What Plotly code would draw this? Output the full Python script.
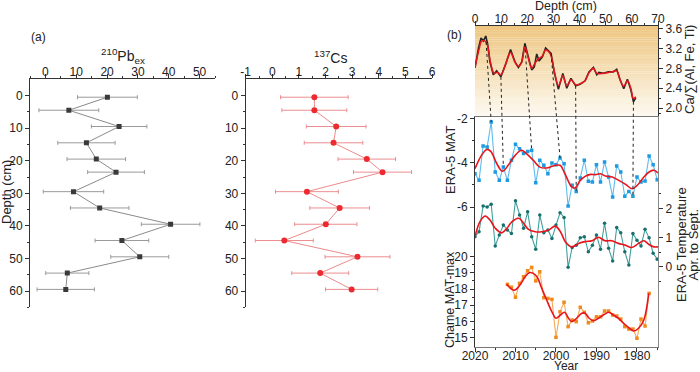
import plotly.graph_objects as go

W, H = 700, 372
FONT = "Arial, Liberation Sans, sans-serif"

# ---------------- panel (a) data ----------------
depth_a = [0.5, 4.5, 9.5, 14.5, 19.5, 23.5, 29.5, 34.5, 39.5, 44.5, 49.5, 54.5, 59.5]
pb_ex = [20.1, 7.6, 23.9, 13.3, 16.5, 22.9, 9.1, 17.6, 40.6, 24.8, 30.6, 7.1, 6.6]
pb_err = [9.7, 9.7, 9.0, 9.3, 9.5, 9.2, 9.8, 9.5, 9.5, 8.7, 9.4, 7.0, 9.3]
cs_137 = [1.58, 1.58, 2.40, 2.30, 3.55, 4.14, 1.30, 2.53, 2.01, 0.45, 3.20, 1.80, 2.98]
cs_err = [1.27, 1.22, 1.12, 1.10, 1.08, 1.09, 1.18, 1.12, 1.17, 1.09, 1.22, 1.07, 0.98]

pb_ticks = [0, 10, 20, 30, 40, 50]
cs_ticks = [-1, 0, 1, 2, 3, 4, 5, 6]
depth_ticks = [0, 10, 20, 30, 40, 50, 60]

# ---------------- panel (b) data ----------------
# Ca/sum(Al, Fe, Ti) vs depth
ca_depth = [0, 1.3, 2.3, 3.2, 4.1, 4.8, 5.7, 7.0, 8.3, 9.9, 11.7, 13.6, 15.3, 16.6, 17.9,
            19.1, 20.4, 21.7, 22.7, 23.6, 24.5, 25.8, 27.0, 28.3, 29.1, 30.4, 31.9, 33.6,
            35.1, 36.7, 38.5, 40.2, 42.1, 43.6, 45.3, 46.6, 47.4, 49.1, 51.0, 52.9, 54.2,
            55.5, 56.9, 58.3, 59.6, 60.6, 61.5]
ca_raw = [2.81, 3.20, 3.41, 3.35, 3.45, 3.30, 2.93, 2.67, 2.75, 2.63, 2.88, 3.18, 2.93, 2.82,
          2.93, 3.30, 3.03, 2.77, 2.83, 3.09, 2.95, 3.03, 3.21, 3.13, 3.10, 2.70, 2.38, 2.70,
          2.40, 2.60, 2.45, 2.48, 2.55, 2.73, 2.82, 2.67, 2.72, 2.70, 2.73, 2.73, 2.78, 2.57,
          2.39, 2.58, 2.37, 2.13, 2.21]
ca_sm_depth = [0, 1.5, 2.6, 3.8, 4.8, 5.9, 7.3, 8.5, 9.9, 11.7, 13.6, 15.3, 16.6, 17.9, 19.1,
               20.4, 21.7, 23.0, 24.5, 25.8, 27.0, 28.7, 30.4, 31.9, 33.6, 35.1, 36.7, 38.5,
               40.2, 42.1, 43.6, 45.3, 46.6, 49.1, 52.3, 54.2, 55.5, 56.9, 58.3, 59.6, 60.6, 61.5]
ca_smooth = [2.81, 3.17, 3.35, 3.35, 3.26, 2.93, 2.70, 2.72, 2.67, 2.88, 3.12, 2.92, 2.84, 2.93,
             3.23, 3.00, 2.80, 2.91, 3.00, 3.05, 3.17, 3.10, 2.73, 2.45, 2.65, 2.45, 2.57, 2.47,
             2.49, 2.55, 2.71, 2.80, 2.70, 2.70, 2.73, 2.75, 2.57, 2.44, 2.55, 2.40, 2.19, 2.23]

years = list(range(2020, 1974, -1))
era5_mat = [-4.49, -4.79, -3.24, -3.28, -2.15, -4.41, -4.79, -4.19, -4.79, -3.88, -3.16, -3.36,
            -3.58, -3.48, -3.43, -4.90, -3.88, -4.11, -4.49, -4.00, -4.08, -3.78, -4.04, -5.95,
            -5.01, -5.29, -4.68, -3.88, -4.83, -4.86, -4.08, -4.86, -3.96, -4.64, -5.54, -4.14,
            -4.41, -5.51, -5.29, -5.51, -4.64, -4.86, -4.82, -3.69, -4.08, -4.76]
mat_sm_year = [2020, 2018.4, 2017.1, 2016.1, 2014.6, 2013.2, 2011.8, 2010.1, 2008.5, 2007.3,
               2005.6, 2004.0, 2002.3, 2000.7, 1999.0, 1997.8, 1996.1, 1995.3, 1994.0, 1992.8,
               1991.5, 1990.3, 1989.0, 1987.8, 1986.1, 1984.5, 1982.8, 1981.2, 1979.9, 1978.3,
               1977.0, 1975.8, 1974.8]
mat_smooth = [-4.26, -3.66, -3.39, -3.48, -4.04, -4.38, -4.11, -3.66, -3.43, -3.58, -3.88, -4.19,
              -4.23, -4.14, -4.11, -4.49, -5.09, -5.14, -4.79, -4.61, -4.52, -4.53, -4.49, -4.59,
              -4.64, -4.79, -4.97, -5.17, -5.01, -4.64, -4.41, -4.33, -4.46]

era5_aprsep = [1.03, 1.20, 2.08, 2.05, 2.14, 0.71, 1.09, 1.43, 1.26, 1.14, 2.26, 1.77, 1.32,
               1.88, 1.03, 0.60, 1.77, 1.16, 1.26, 0.97, 1.43, 1.85, 1.69, -0.02, 0.66, 0.74,
               0.99, 1.03, 0.51, 0.74, 1.09, 0.60, 1.49, 0.63, 0.20, 1.34, 1.16, 0.51, 0.06,
               1.14, 0.91, 0.71, 1.28, 0.99, 0.46, 0.26]
aprsep_sm_year = [2020, 2018.8, 2017.5, 2016.3, 2015.0, 2013.4, 2012.1, 2010.9, 2009.2, 2008.0,
                  2006.8, 2005.1, 2003.5, 2001.8, 2000.2, 1998.9, 1997.7, 1996.1, 1994.4, 1992.8,
                  1991.1, 1989.5, 1987.9, 1986.2, 1984.6, 1982.9, 1981.3, 1979.6, 1978.3, 1977.1,
                  1975.8, 1974.8]
aprsep_smooth = [1.03, 1.54, 1.74, 1.60, 1.32, 1.16, 1.32, 1.54, 1.66, 1.49, 1.28, 1.20, 1.20,
                 1.26, 1.39, 1.20, 0.86, 0.68, 0.80, 0.86, 0.89, 1.01, 0.89, 0.89, 0.80, 0.74,
                 0.66, 0.80, 0.89, 0.77, 0.68, 0.68]

chame_years = list(range(2012, 1976, -1))
chame_matmax = [18.29, 18.11, 17.49, 18.35, 18.76, 19.13, 19.34, 18.50, 19.07, 17.46, 17.42,
                17.36, 15.01, 16.59, 17.18, 15.67, 16.08, 15.98, 16.87, 16.56, 15.91, 16.02,
                16.28, 16.28, 16.64, 16.64, 16.39, 16.33, 16.14, 15.67, 15.52, 15.52, 14.95,
                16.14, 15.71, 17.73]
chame_sm_year = [2012.2, 2010.9, 2010.1, 2008.9, 2007.6, 2006.6, 2005.6, 2004.7, 2003.5, 2002.3,
                 2001.0, 2000.0, 1998.9, 1997.9, 1996.9, 1996.1, 1994.9, 1993.6, 1992.8, 1991.8,
                 1990.7, 1989.5, 1988.3, 1987.0, 1985.8, 1984.6, 1983.3, 1982.1, 1980.8, 1979.6,
                 1978.3, 1977.1]
chame_smooth = [18.29, 17.98, 17.94, 18.25, 18.76, 19.01, 18.97, 18.76, 18.04, 17.32, 16.59,
                16.19, 16.39, 16.56, 16.19, 15.98, 16.19, 16.50, 16.50, 16.19, 16.04, 16.19,
                16.39, 16.56, 16.39, 16.19, 15.88, 15.63, 15.40, 15.57, 16.08, 17.73]

core_depth_ticks = [0, 10, 20, 30, 40, 50, 60, 70]
year_ticks = [2020, 2010, 2000, 1990, 1980]

# tie points: depth in core -> year in ERA-5 MAT
tie_depth = [4.1, 9.9, 19.1, 29.1, 38.5, 60.6]
tie_ca = [3.45, 2.63, 3.30, 3.10, 2.45, 2.13]
tie_year = [2016, 2013, 2006, 1999, 1995, 1981]
tie_mat = [-2.15, -4.19, -3.43, -3.78, -5.29, -5.51]

# ---------------- layout geometry (pixels) ----------------
A_TOP, A_BOT = 79.3, 307.3
PB_L, PB_R = 30, 215
CS_L, CS_R = 245.7, 432
B_L, B_R = 475, 658
B_TOP, B_MID, B_BOT = 26, 116.7, 347

pb_range = [-5, 55]
cs_range = [-1, 6]
depth_range = [0, 70]
ca_range = [1.83, 3.65]
year_range = [2020, 1974.8]
mat_range = [-12.33, -1.91]
aprsep_range = [-2.75, 5.14]
chame_range = [14.41, 28.67]


def dx(x0, x1):
    return [x0 / W, x1 / W]


def dy(top, bot):
    return [1 - bot / H, 1 - top / H]


def lin(v, r, p0, p1):
    return p0 + (v - r[0]) / (r[1] - r[0]) * (p1 - p0)


fig = go.Figure()

# panel (a)
fig.add_trace(go.Scatter(
    x=pb_ex, y=depth_a, mode="lines+markers", xaxis="x", yaxis="y",
    line=dict(color="#8a8a8a", width=1),
    marker=dict(symbol="square", size=5, color="#3a3a3a"),
    error_x=dict(type="data", array=pb_err, color="#9a9a9a", thickness=1, width=2),
    showlegend=False))
fig.add_trace(go.Scatter(
    x=cs_137, y=depth_a, mode="lines+markers", xaxis="x2", yaxis="y2",
    line=dict(color="#ea8a8c", width=1),
    marker=dict(symbol="circle", size=6, color="#ec2a30"),
    error_x=dict(type="data", array=cs_err, color="#ec8e90", thickness=1, width=2),
    showlegend=False))

# panel (b) top: Ca ratio
fig.add_trace(go.Scatter(x=ca_depth, y=ca_raw, mode="lines", xaxis="x3", yaxis="y3",
                         line=dict(color="#262626", width=1.6), showlegend=False))
fig.add_trace(go.Scatter(x=ca_sm_depth, y=ca_smooth, mode="lines", xaxis="x3", yaxis="y3",
                         line=dict(color="#e8141c", width=1.5, shape="spline"), showlegend=False))

# panel (b) lower
fig.add_trace(go.Scatter(x=years, y=era5_mat, mode="lines+markers", xaxis="x4", yaxis="y4",
                         line=dict(color="#5cbcee", width=1.1),
                         marker=dict(symbol="square", size=3.5, color="#1e9be0"),
                         showlegend=False))
fig.add_trace(go.Scatter(x=mat_sm_year, y=mat_smooth, mode="lines", xaxis="x4", yaxis="y4",
                         line=dict(color="#e8141c", width=1.6, shape="spline"), showlegend=False))
fig.add_trace(go.Scatter(x=years, y=era5_aprsep, mode="lines+markers", xaxis="x4", yaxis="y5",
                         line=dict(color="#3fa09d", width=1.1),
                         marker=dict(symbol="circle", size=3.5, color="#17706e"),
                         showlegend=False))
fig.add_trace(go.Scatter(x=aprsep_sm_year, y=aprsep_smooth, mode="lines", xaxis="x4", yaxis="y5",
                         line=dict(color="#e8141c", width=1.6, shape="spline"), showlegend=False))
fig.add_trace(go.Scatter(x=chame_years, y=chame_matmax, mode="lines+markers", xaxis="x4", yaxis="y6",
                         line=dict(color="#f7aa52", width=1.1),
                         marker=dict(symbol="square", size=3.5, color="#f08a1a"),
                         showlegend=False))
fig.add_trace(go.Scatter(x=chame_sm_year, y=chame_smooth, mode="lines", xaxis="x4", yaxis="y6",
                         line=dict(color="#e8141c", width=1.6, shape="spline"), showlegend=False))

# empty traces so the label-only twin axes get drawn
for xa, ya in [("x5", "y"), ("x6", "y2"), ("x7", "y3"), ("x8", "y4")]:
    fig.add_trace(go.Scatter(x=[None], y=[None], xaxis=xa, yaxis=ya, mode="markers",
                             showlegend=False, hoverinfo="skip"))

tickfont = dict(family=FONT, size=12, color="#222")
ax = dict(showgrid=False, zeroline=False, showline=True, linecolor="#333", linewidth=1,
          ticks="outside", ticklen=4, tickwidth=1, tickcolor="#333", automargin=False,
          tickfont=tickfont)
minor_y_a = dict(tickvals=[5, 15, 25, 35, 45, 55, 65], ticklen=2, ticks="outside", tickcolor="#333")


def label_axis(base, rng, vals, side, anchor, text=None):
    # label-only twin of an x axis: no tick marks, so labels sit close to the line
    d = dict(overlaying=base, range=rng, side=side, anchor=anchor, tickvals=vals,
             showline=False, ticks="", showgrid=False, zeroline=False,
             automargin=False, tickfont=tickfont)
    if text is not None:
        d["ticktext"] = text
    return d


# gradient background for Ca panel
shapes = []
n_bands = 40
top_c, bot_c = (238, 198, 128), (253, 249, 240)
for i in range(n_bands):
    t = i / (n_bands - 1)
    c = tuple(round(top_c[k] + (bot_c[k] - top_c[k]) * t) for k in range(3))
    shapes.append(dict(type="rect", xref="x3 domain", yref="y3 domain",
                       x0=0, x1=1, y0=1 - (i + 1) / n_bands, y1=1 - i / n_bands + 0.002,
                       fillcolor="rgb(%d,%d,%d)" % c, line=dict(width=0), layer="below"))

# dotted tie lines
for d, c, yr, m in zip(tie_depth, tie_ca, tie_year, tie_mat):
    x0 = lin(d, depth_range, B_L, B_R)
    y0 = lin(c, ca_range, B_MID, B_TOP)
    x1 = lin(yr, year_range, B_L, B_R)
    y1 = lin(m, mat_range, B_BOT, B_MID)
    shapes.append(dict(type="line", xref="paper", yref="paper",
                       x0=x0 / W, y0=1 - y0 / H, x1=x1 / W, y1=1 - y1 / H,
                       line=dict(color="#222", width=1, dash="dot")))


def ann(text, x, y, size=13, angle=0, xanchor="center"):
    return dict(text=text, x=x / W, y=1 - y / H, xref="paper", yref="paper",
                showarrow=False, textangle=angle, xanchor=xanchor, yanchor="middle",
                font=dict(family=FONT, size=size, color="#222"))


annotations = [
    ann("(a)", 38, 37, 12),
    ann("(b)", 454, 35, 12),
    ann("<sup>210</sup>Pb<sub>ex</sub>", 123, 56, 14),
    ann("<sup>137</sup>Cs", 330, 57, 14),
    ann("Depth (cm)", 6, 192, 13, -90),
    ann("Depth (cm)", 566, 6.5, 12.5),
    ann("Ca/\u2211(Al, Fe, Ti)", 689, 70, 13, -90),
    ann("ERA-5 MAT", 450, 160, 13, -90),
    ann("Chame MAT-max", 450, 300, 12.5, -90),
    ann("ERA-5 Temperature", 681, 245, 13, -90),
    ann("Apr. to Sept.", 692.5, 245, 13, -90),
    ann("Year", 566, 366, 12),
]

fig.update_layout(
    width=W, height=H, margin=dict(l=0, r=0, t=0, b=0, pad=0), autosize=False,
    paper_bgcolor="white", plot_bgcolor="rgba(0,0,0,0)",
    font=dict(family=FONT, size=12, color="#222"),
    xaxis=dict(ax, domain=dx(PB_L, PB_R), range=pb_range, side="top", anchor="y",
               tickvals=pb_ticks, showticklabels=False,
               minor=dict(tickvals=[-5, 5, 15, 25, 35, 45, 55], ticklen=2, ticks="outside", tickcolor="#333")),
    yaxis=dict(ax, domain=dy(A_TOP, A_BOT), range=[65, -5], anchor="x",
               tickvals=depth_ticks, minor=minor_y_a),
    xaxis2=dict(ax, domain=dx(CS_L, CS_R), range=cs_range, side="top", anchor="y2",
                tickvals=cs_ticks, showticklabels=False,
                minor=dict(dtick=0.5, tick0=-1, ticklen=2, ticks="outside", tickcolor="#333")),
    yaxis2=dict(ax, domain=dy(A_TOP, A_BOT), range=[65, -5], anchor="x2",
                tickvals=depth_ticks, minor=minor_y_a),
    xaxis3=dict(ax, domain=dx(B_L, B_R), range=depth_range, side="top", anchor="y3",
                tickvals=core_depth_ticks, showticklabels=False,
                minor=dict(tickvals=list(range(5, 70, 10)), ticklen=2, ticks="outside", tickcolor="#333")),
    yaxis3=dict(ax, domain=dy(B_TOP, B_MID), range=ca_range, side="right", anchor="x3",
                tickvals=[2.0, 2.4, 2.8, 3.2, 3.6], tickformat=".1f",
                minor=dict(tickvals=[1.9, 2.2, 2.6, 3.0, 3.4], ticklen=2, ticks="outside", tickcolor="#333")),
    xaxis4=dict(ax, domain=dx(B_L, B_R), range=year_range, anchor="y4", mirror=True,
                linecolor="#777", tickvals=year_ticks, showticklabels=False,
                minor=dict(tickvals=[2015, 2005, 1995, 1985, 1975], ticklen=2, ticks="outside", tickcolor="#333")),
    yaxis4=dict(ax, domain=dy(B_MID, B_BOT), range=mat_range, anchor="x4",
                tickvals=[-2, -4, -6], ticktext=["-2", "-4", "-6"],
                minor=dict(tickvals=[-3, -5], ticklen=2, ticks="outside", tickcolor="#333")),
    yaxis5=dict(ax, range=aprsep_range, overlaying="y4", side="right", anchor="x4",
                linecolor="#888", tickvals=[0, 1, 2],
                minor=dict(tickvals=[-0.5, 0.5, 1.5, 2.5], ticklen=2, ticks="outside", tickcolor="#333")),
    yaxis6=dict(ax, range=chame_range, overlaying="y4", side="left", anchor="x4",
                tickvals=[15, 16, 17, 18, 19, 20],
                minor=dict(tickvals=[15.5, 16.5, 17.5, 18.5, 19.5], ticklen=2, ticks="outside", tickcolor="#333")),
    xaxis5=label_axis("x", pb_range, pb_ticks, "top", "y"),
    xaxis6=label_axis("x2", cs_range, cs_ticks, "top", "y2", [str(v) for v in cs_ticks]),
    xaxis7=label_axis("x3", depth_range, core_depth_ticks, "top", "y3"),
    xaxis8=label_axis("x4", year_range, year_ticks, "bottom", "y4"),
    shapes=shapes,
    annotations=annotations,
)

# the default page keeps an 8px body margin; drop it so the figure sits at the window origin
fig.write_html("out.html", config={"displayModeBar": False},
               post_script="document.body.style.margin='0';")
